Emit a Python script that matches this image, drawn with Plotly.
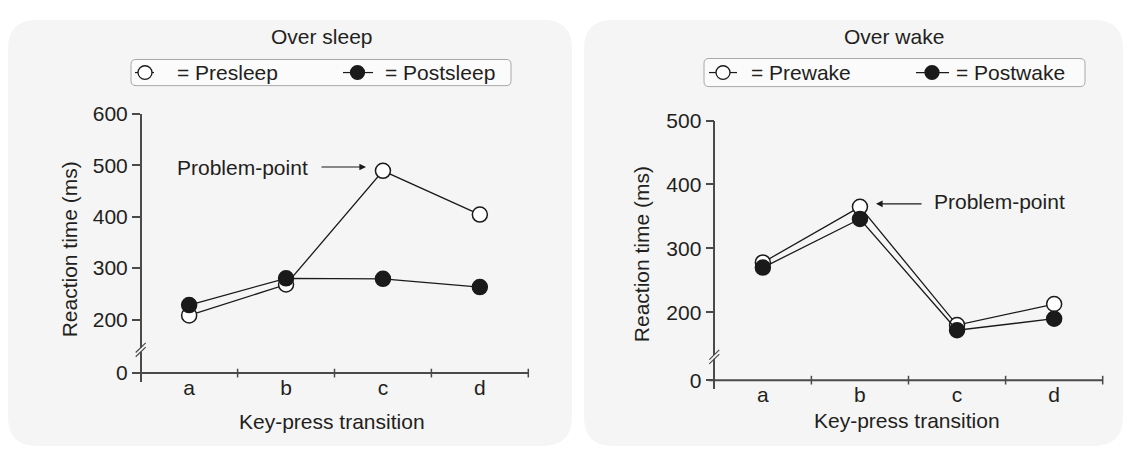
"""
Reaction time before/after sleep and wake - two-panel line chart
"""

import plotly.graph_objects as go

W, H = 1129, 449

# 資料
categories = ['a', 'b', 'c', 'd']
presleep = [208, 268, 489, 404]
postsleep = [228, 280, 279, 263]
prewake = [278, 365, 180, 213]
postwake = [270, 346, 172, 190]

sleep_ticks = [200, 300, 400, 500, 600]
wake_ticks = [200, 300, 400, 500]

FONT = 'Liberation Sans, Arial, Helvetica, sans-serif'
TEXT = '#231f20'
AXIS = '#4a4a4a'
LINE = '#1a1a1a'
PANEL_BG = '#f5f5f5'
FS = 21


def fx(p):
    return p / W


def fy(p):
    return 1 - p / H


def round_rect(x0, y0, x1, y1, r):
    # rounded rectangle path in paper units, from pixel corners
    pts = [
        f"M {fx(x0 + r)},{fy(y0)}",
        f"L {fx(x1 - r)},{fy(y0)}",
        f"Q {fx(x1)},{fy(y0)} {fx(x1)},{fy(y0 + r)}",
        f"L {fx(x1)},{fy(y1 - r)}",
        f"Q {fx(x1)},{fy(y1)} {fx(x1 - r)},{fy(y1)}",
        f"L {fx(x0 + r)},{fy(y1)}",
        f"Q {fx(x0)},{fy(y1)} {fx(x0)},{fy(y1 - r)}",
        f"L {fx(x0)},{fy(y0 + r)}",
        f"Q {fx(x0)},{fy(y0)} {fx(x0 + r)},{fy(y0)}",
        "Z",
    ]
    return ' '.join(pts)


fig = go.Figure()
shapes = []
annotations = []

panels = [
    dict(n='', open_vals=presleep, fill_vals=postsleep, ticks=sleep_ticks,
         bg=(8, 8, 572, 448), x_axis=140.7, cat_w=96.9, x_dom=(130, 535),
         y_top=105, y_bot=382, y_base=372.7, top_val=600, k=0.531,
         title='Over sleep', title_xy=(322, 25),
         ytitle_xy=(69, 245), xtitle_xy=(332, 423),
         legend_box=(131, 49, 511, 76),
         legend_items=[(145, 135, 154, False, '= Presleep', 175),
                       (357.5, 343, 373, True, '= Postsleep', 383)],
         open_name='Presleep', fill_name='Postsleep',
         arrow=dict(head=(366, 160), tail=(320, 160)),
         pp_text=dict(x=310, y=160, anchor='right')),
    dict(n='2', open_vals=prewake, fill_vals=postwake, ticks=wake_ticks,
         bg=(584, 8, 1123, 448), x_axis=714.3, cat_w=97.1, x_dom=(705, 1110),
         y_top=112, y_bot=389, y_base=380, top_val=500, k=0.66,
         title='Over wake', title_xy=(894, 25),
         ytitle_xy=(641, 250), xtitle_xy=(907, 422),
         legend_box=(704, 48, 1085, 77),
         legend_items=[(723, 709, 737, False, '= Prewake', 749),
                       (932, 916, 949, True, '= Postwake', 954)],
         open_name='Prewake', fill_name='Postwake',
         arrow=dict(head=(876, 198), tail=(923, 198)),
         pp_text=dict(x=932, y=196, anchor='left')),
]

layout_axes = {}

for p in panels:
    n = p['n']
    xa, ya = 'x' + n, 'y' + n

    # 面板底色
    bx0, by0, bx1, by1 = p['bg']
    shapes.append(dict(type='path', xref='paper', yref='paper', layer='below',
                       path=round_rect(bx0, by0, bx1, by1, 30),
                       fillcolor=PANEL_BG, line=dict(width=0)))

    # 座標換算
    xr0 = -0.5 + (p['x_dom'][0] - p['x_axis']) / p['cat_w']
    xr1 = -0.5 + (p['x_dom'][1] - p['x_axis']) / p['cat_w']
    yr1 = p['top_val']
    yr0 = p['top_val'] - (p['y_bot'] - p['y_top']) / p['k']
    base = p['top_val'] - (p['y_base'] - p['y_top']) / p['k']
    x_left = -0.5 - 5.5 / p['cat_w']

    tickvals = [base] + p['ticks']
    ticktext = ['0'] + [str(t) for t in p['ticks']]

    layout_axes['xaxis' + n] = dict(
        domain=[fx(p['x_dom'][0]), fx(p['x_dom'][1])],
        range=[xr0, xr1], type='category', categoryorder='array',
        categoryarray=categories,
        anchor='free', position=fy(p['y_base']),
        showline=False, showgrid=False, zeroline=False, ticks='',
        tickfont=dict(size=FS, color=TEXT, family=FONT),
        fixedrange=True,
    )
    layout_axes['yaxis' + n] = dict(
        domain=[fy(p['y_bot']), fy(p['y_top'])],
        range=[yr0, yr1], anchor='free', position=fx(p['x_axis']),
        showline=True, linecolor=AXIS, linewidth=1.5,
        ticks='outside', ticklen=8, tickwidth=1.5, tickcolor=AXIS,
        tickvals=tickvals, ticktext=ticktext,
        showgrid=False, zeroline=False,
        tickfont=dict(size=FS, color=TEXT, family=FONT),
        fixedrange=True,
    )

    # x 軸線與刻度
    shapes.append(dict(type='line', xref=xa, yref=ya, x0=x_left, x1=len(categories) - 0.5,
                       y0=base, y1=base, line=dict(color=AXIS, width=2)))
    for i in range(len(categories)):
        xv = i + 0.5
        shapes.append(dict(type='line', xref=xa, yref='paper', x0=xv, x1=xv,
                           y0=fy(p['y_base'] - 4.5), y1=fy(p['y_base'] + 4.5),
                           line=dict(color=AXIS, width=1.5)))

    # y 軸斷裂符號
    ax_px = p['x_axis']
    bmid = p['y_base'] - 24
    shapes.append(dict(type='rect', xref='paper', yref='paper',
                       x0=fx(ax_px - 2), x1=fx(ax_px + 2),
                       y0=fy(bmid + 2), y1=fy(bmid - 2),
                       fillcolor=PANEL_BG, line=dict(width=0)))
    for off in (-2.2, 2.2):
        shapes.append(dict(type='line', xref='paper', yref='paper',
                           x0=fx(ax_px - 5), y0=fy(bmid + off + 5),
                           x1=fx(ax_px + 5), y1=fy(bmid + off - 5),
                           line=dict(color=AXIS, width=1.2)))

    # 資料線
    fig.add_trace(go.Scatter(
        x=categories, y=p['open_vals'], xaxis=xa, yaxis=ya,
        mode='lines+markers', name=p['open_name'], cliponaxis=False,
        line=dict(color=LINE, width=1.3),
        marker=dict(size=15, color='white', line=dict(color=LINE, width=1.5)),
        showlegend=False,
    ))
    fig.add_trace(go.Scatter(
        x=categories, y=p['fill_vals'], xaxis=xa, yaxis=ya,
        mode='lines+markers', name=p['fill_name'], cliponaxis=False,
        line=dict(color=LINE, width=1.3),
        marker=dict(size=15, color=LINE, line=dict(color=LINE, width=1.5)),
        showlegend=False,
    ))

    # 標題
    tx, ty = p['title_xy']
    annotations.append(dict(text=p['title'], x=fx(tx), y=fy(ty), xref='paper', yref='paper',
                            showarrow=False, xanchor='center', yanchor='middle'))
    tx, ty = p['xtitle_xy']
    annotations.append(dict(text='Key-press transition', x=fx(tx), y=fy(ty), xref='paper',
                            yref='paper', showarrow=False, xanchor='center', yanchor='middle'))
    tx, ty = p['ytitle_xy']
    annotations.append(dict(text='Reaction time (ms)', x=fx(tx), y=fy(ty), xref='paper',
                            yref='paper', showarrow=False, textangle=-90,
                            xanchor='center', yanchor='middle'))

    # 圖例
    lx0, ly0, lx1, ly1 = p['legend_box']
    shapes.append(dict(type='path', xref='paper', yref='paper',
                       path=round_rect(lx0, ly0, lx1, ly1, 5),
                       fillcolor='#fbfbfb', line=dict(color='#a8a8a8', width=1)))
    ly = (ly0 + ly1) / 2
    for cx, s0, s1, filled, label, txt_x in p['legend_items']:
        shapes.append(dict(type='line', xref='paper', yref='paper',
                           x0=fx(s0), x1=fx(s1), y0=fy(ly), y1=fy(ly),
                           line=dict(color=LINE, width=1.2)))
        shapes.append(dict(type='circle', xref='paper', yref='paper',
                           x0=fx(cx - 7), x1=fx(cx + 7), y0=fy(ly + 7), y1=fy(ly - 7),
                           fillcolor=LINE if filled else 'white',
                           line=dict(color=LINE, width=1.3)))
        annotations.append(dict(text=label, x=fx(txt_x), y=fy(ly), xref='paper', yref='paper',
                                showarrow=False, xanchor='left', yanchor='middle'))

    # Problem-point 標註
    hx, hy = p['arrow']['head']
    tx, ty = p['arrow']['tail']
    annotations.append(dict(text='', x=fx(hx), y=fy(hy), xref='paper', yref='paper',
                            showarrow=True, ax=tx - hx, ay=ty - hy, axref='pixel', ayref='pixel',
                            arrowhead=2, arrowsize=1.1, arrowwidth=1.2, arrowcolor=LINE,
                            standoff=0, startstandoff=0))
    pt = p['pp_text']
    annotations.append(dict(text='Problem-point', x=fx(pt['x']), y=fy(pt['y']), xref='paper',
                            yref='paper', showarrow=False, xanchor=pt['anchor'], yanchor='middle'))

fig.update_layout(
    width=W, height=H,
    margin=dict(l=0, r=0, t=0, b=0),
    paper_bgcolor='white',
    plot_bgcolor='rgba(0,0,0,0)',
    font=dict(family=FONT, size=FS, color=TEXT),
    showlegend=False,
    shapes=shapes,
    annotations=annotations,
    **layout_axes,
)

# 去除頁面預設邊距，讓圖與視窗對齊
fig.write_html("out.html", config={'displayModeBar': False},
               post_script="document.body.style.margin='0';document.body.style.overflow='hidden';")
